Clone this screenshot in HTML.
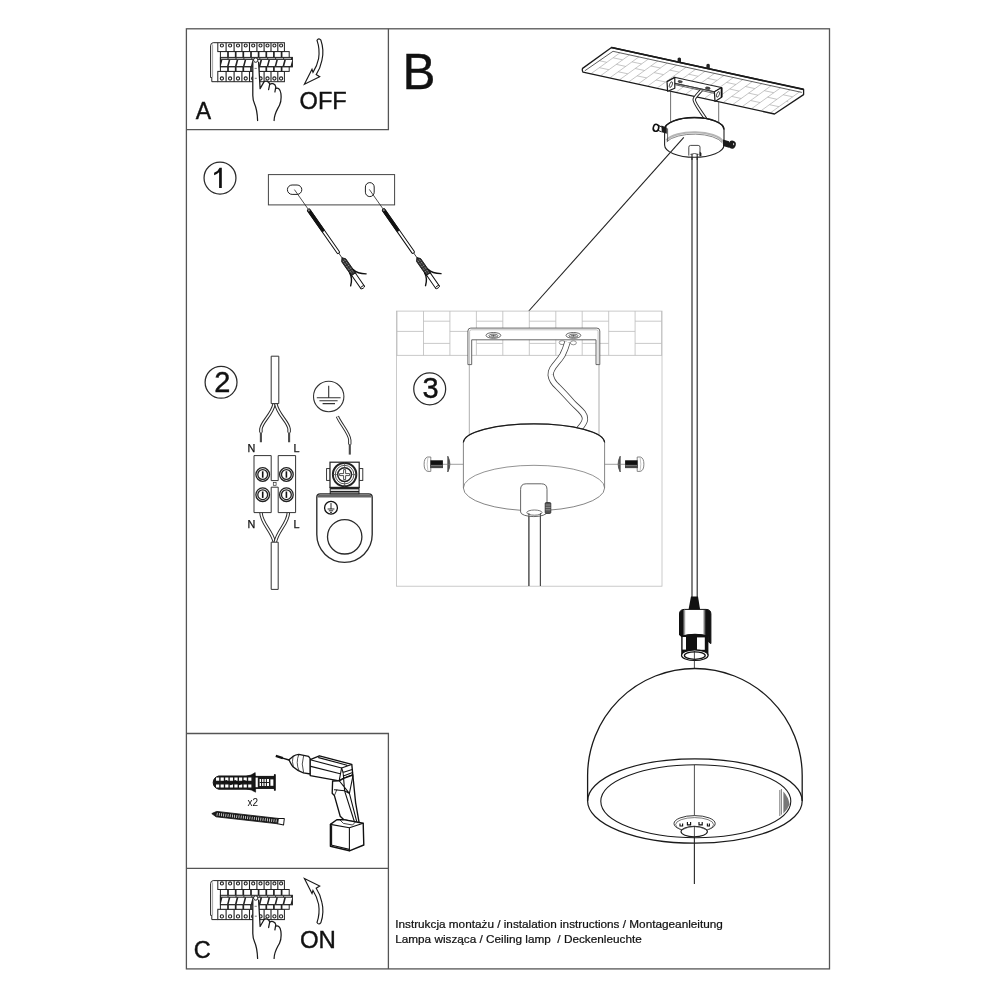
<!DOCTYPE html>
<html><head><meta charset="utf-8"><title>Instrukcja montażu</title>
<style>
html,body{margin:0;padding:0;background:#fff;}
body{width:1000px;height:1000px;overflow:hidden;font-family:"Liberation Sans",sans-serif;}
svg{display:block;position:absolute;left:0;top:0;will-change:transform;opacity:.999;}
text{font-family:"Liberation Sans",sans-serif;fill:#111;}
.f{fill:none;stroke:#555;stroke-width:1.3;}
.k{fill:none;stroke:#222;stroke-width:1;}
.kw{fill:#fff;stroke:#222;stroke-width:1;}
.t{fill:none;stroke:#555;stroke-width:0.8;}
.tw{fill:#fff;stroke:#555;stroke-width:0.8;}
.g{fill:none;stroke:#aaa;stroke-width:0.7;}
</style></head><body>
<svg width="1000" height="1000" viewBox="0 0 1000 1000">
<rect width="1000" height="1000" fill="#fff"/>
<!-- FRAME -->
<g class="f">
<rect x="186.4" y="28.8" width="643.1" height="940.1"/>
<path d="M388.4 28.8V129.6H186.4"/>
<path d="M186.4 733.5H388.4V968.9"/>
<path d="M186.4 868.3H388.4"/>
</g>
<!-- LABELS -->
<g stroke="#111" stroke-width=".4">
<text x="195.7" y="118.6" font-size="23">A</text>
<text x="299.6" y="109.3" font-size="23.6">OFF</text>
<text x="402.6" y="89" font-size="49.4">B</text>
<text x="193.8" y="958.2" font-size="23.5">C</text>
<text x="299.9" y="947.6" font-size="24">ON</text>
<text x="395.2" y="927.8" font-size="11.77" stroke="#111" stroke-width=".22">Instrukcja montażu / instalation instructions / Montageanleitung</text>
<text x="395.2" y="943.1" font-size="11.77" stroke="#111" stroke-width=".22">Lampa wisząca / Ceiling lamp&#160; / Deckenleuchte</text>
</g>
<!-- BREAKER -->
<defs><g id="brk">
<path d="M217.8 42.7H213.2Q210.6 42.9 210.6 45.8V77.5H211.8V81.7H217.8" fill="#fff" stroke="#222" stroke-width="1"/>
<path d="M212.6 44.5V77.5" stroke="#666" stroke-width=".6" fill="none"/>
<rect x="217.8" y="42.7" width="66.6" height="8.9" fill="#fff" stroke="#222" stroke-width="1"/>
<path d="M226.1 42.7V51.6M234.1 42.7V51.6M241.9 42.7V51.6M249.5 42.7V51.6M256.9 42.7V51.6M264.1 42.7V51.6M271.0 42.7V51.6M277.8 42.7V51.6" stroke="#222" stroke-width="1.1" fill="none"/>
<circle cx="221.9" cy="45.5" r="1.55" fill="#fff" stroke="#222" stroke-width="1.1"/>
<circle cx="230.1" cy="45.5" r="1.55" fill="#fff" stroke="#222" stroke-width="1.1"/>
<circle cx="238.0" cy="45.5" r="1.55" fill="#fff" stroke="#222" stroke-width="1.1"/>
<circle cx="245.7" cy="45.5" r="1.55" fill="#fff" stroke="#222" stroke-width="1.1"/>
<circle cx="253.2" cy="45.5" r="1.55" fill="#fff" stroke="#222" stroke-width="1.1"/>
<circle cx="260.5" cy="45.5" r="1.55" fill="#fff" stroke="#222" stroke-width="1.1"/>
<circle cx="267.5" cy="45.5" r="1.55" fill="#fff" stroke="#222" stroke-width="1.1"/>
<circle cx="274.4" cy="45.5" r="1.55" fill="#fff" stroke="#222" stroke-width="1.1"/>
<circle cx="281.1" cy="45.5" r="1.55" fill="#fff" stroke="#222" stroke-width="1.1"/>
<rect x="217.8" y="71.4" width="66.6" height="10.3" fill="#fff" stroke="#222" stroke-width="1"/>
<path d="M226.1 71.4V81.7M234.1 71.4V81.7M241.9 71.4V81.7M249.5 71.4V81.7M256.9 71.4V81.7M264.1 71.4V81.7M271.0 71.4V81.7M277.8 71.4V81.7" stroke="#222" stroke-width="1.1" fill="none"/>
<circle cx="221.9" cy="78.5" r="1.6" fill="#fff" stroke="#222" stroke-width="1.1"/>
<circle cx="230.1" cy="78.5" r="1.6" fill="#fff" stroke="#222" stroke-width="1.1"/>
<circle cx="238.0" cy="78.5" r="1.6" fill="#fff" stroke="#222" stroke-width="1.1"/>
<circle cx="245.7" cy="78.5" r="1.6" fill="#fff" stroke="#222" stroke-width="1.1"/>
<circle cx="253.2" cy="78.5" r="1.6" fill="#fff" stroke="#222" stroke-width="1.1"/>
<circle cx="260.5" cy="78.5" r="1.6" fill="#fff" stroke="#222" stroke-width="1.1"/>
<circle cx="267.5" cy="78.5" r="1.6" fill="#fff" stroke="#222" stroke-width="1.1"/>
<circle cx="274.4" cy="78.5" r="1.6" fill="#fff" stroke="#222" stroke-width="1.1"/>
<circle cx="281.1" cy="78.5" r="1.6" fill="#fff" stroke="#222" stroke-width="1.1"/>
<rect x="220.4" y="51.6" width="68.8" height="19.8" fill="#fff" stroke="#222" stroke-width="1"/>
<path d="M228.0 51.6V57.4M228.0 67V71.4M235.7 51.6V57.4M235.7 67V71.4M243.3 51.6V57.4M243.3 67V71.4M251.0 51.6V57.4M251.0 67V71.4M258.6 51.6V57.4M258.6 67V71.4M266.3 51.6V57.4M266.3 67V71.4M273.9 51.6V57.4M273.9 67V71.4M281.6 51.6V57.4M281.6 67V71.4" stroke="#222" stroke-width="1.7" fill="none"/>
<rect x="220.4" y="57.4" width="72.0" height="9.5" fill="#222" stroke="#222" stroke-width="1"/>
<rect x="221.0" y="57.9" width="70.2" height="1.3" fill="#aaa"/>
<path d="M222.4 59.9H228.7L227.1 66H220.8Z" fill="#fff"/>
<path d="M228.0 57.8v1.5" stroke="#222" stroke-width=".9"/>
<path d="M230.3 59.9H236.6L235.0 66H228.7Z" fill="#fff"/>
<path d="M236.0 57.8v1.5" stroke="#222" stroke-width=".9"/>
<path d="M238.3 59.9H244.6L243.0 66H236.7Z" fill="#fff"/>
<path d="M243.9 57.8v1.5" stroke="#222" stroke-width=".9"/>
<path d="M246.2 59.9H252.5L250.9 66H244.6Z" fill="#fff"/>
<path d="M251.8 57.8v1.5" stroke="#222" stroke-width=".9"/>
<path d="M254.1 59.9H260.4L258.8 66H252.5Z" fill="#fff"/>
<path d="M259.8 57.8v1.5" stroke="#222" stroke-width=".9"/>
<path d="M262.1 59.9H268.4L266.8 66H260.5Z" fill="#fff"/>
<path d="M267.7 57.8v1.5" stroke="#222" stroke-width=".9"/>
<path d="M270.0 59.9H276.3L274.7 66H268.4Z" fill="#fff"/>
<path d="M275.6 57.8v1.5" stroke="#222" stroke-width=".9"/>
<path d="M277.9 59.9H284.2L282.6 66H276.3Z" fill="#fff"/>
<path d="M283.6 57.8v1.5" stroke="#222" stroke-width=".9"/>
<path d="M285.9 59.9H292.2L290.6 66H284.3Z" fill="#fff"/>
<path d="M291.5 57.8v1.5" stroke="#222" stroke-width=".9"/>
<path d="M257.6 120.5C257.3 112 256.4 108 254.6 104C253.2 100.8 252.8 98.5 252.8 95.5V62.2C252.8 58.9 258.6 58.9 258.6 62.2L260.1 88.6L264 81.9C265.5 80.4 269.3 81 269.7 84.3C271 82.8 275.2 83.3 275.8 86.8C277.6 86.4 280.3 88.5 280.9 93.5C281.4 98 281.3 101.5 279.6 105C277.5 109.4 274.2 113.5 274.1 120.5" fill="#fff" stroke="none"/>
<path d="M257.6 120.5C257.3 112 256.4 108 254.6 104C253.2 100.8 252.8 98.5 252.8 95.5V62.2M258.6 62.2L260.1 88.6L264 81.9C265.5 80.4 269.3 81 269.7 84.3L268.6 89.6M269.7 84.6C271 82.8 275.2 83.3 275.8 86.8L274.9 92M275.9 88.4C277.6 87.4 280.3 88.5 280.9 93.5C281.4 98 281.3 101.5 279.6 105C277.5 109.4 274.2 113.5 274.1 120.5" fill="none" stroke="#1a1a1a" stroke-width="1.25" stroke-linejoin="round" stroke-linecap="round"/>
<circle cx="255.7" cy="60.1" r="2.2" fill="#fff" stroke="#222" stroke-width="1"/>
<path d="M254.6 68.4h2.2M254.8 78.3h2" stroke="#555" stroke-width=".8"/>
</g></defs>
<use href="#brk"/>
<use href="#brk" y="837.9"/>
<path d="M317 40.4Q318.8 37.5 320.9 40.2C322.9 46 323.5 54 321.9 60.4C320.8 66 318.6 71 316.2 74.6L319.7 76.8L304.4 84.3L312 69.3L313 72.4C315.4 68.6 317.6 63.6 318.6 58.6C319.6 52 319 46 317 40.4Z" fill="#fff" stroke="#1a1a1a" stroke-width="1.15" stroke-linejoin="miter"/>
<path d="M317 40.4Q318.8 37.5 320.9 40.2C322.9 46 323.5 54 321.9 60.4C320.8 66 318.6 71 316.2 74.6L319.7 76.8L304.4 84.3L312 69.3L313 72.4C315.4 68.6 317.6 63.6 318.6 58.6C319.6 52 319 46 317 40.4Z" transform="translate(0 962.85) scale(1 -1)" fill="#fff" stroke="#1a1a1a" stroke-width="1.15" stroke-linejoin="miter"/>
<!-- LAMP -->
<g id="plate">
<path d="M611.5 47.5L803.6 89.4V94.6L774.5 114L583 72.2Q581.8 70 582.6 68.4Z" fill="#fff" stroke="none"/>
<path d="M620.0 52.8L591.4 73.4M629.5 54.9L600.9 75.5M638.9 56.9L610.3 77.5M648.4 59.0L619.8 79.6M657.8 61.0L629.2 81.6M667.2 63.1L638.6 83.7M676.7 65.2L648.1 85.8M686.1 67.2L657.5 87.8M695.6 69.3L667.0 89.9M705.0 71.3L676.4 91.9M714.5 73.4L685.9 94.0M724.0 75.4L695.4 96.0M733.4 77.5L704.8 98.1M742.9 79.5L714.2 100.1M752.3 81.6L723.7 102.2M761.8 83.7L733.1 104.3M771.2 85.7L742.6 106.3M780.6 87.8L752.0 108.4M790.1 89.8L761.5 110.4M799.5 91.9L770.9 112.5M599.8 60.8L606.8 62.3M613.1 57.8L622.6 59.8M599.4 67.7L608.9 69.7M616.3 64.4L625.7 66.4M632.0 61.9L641.5 63.9M618.3 71.8L627.8 73.8M635.2 68.5L644.6 70.5M650.9 66.0L660.4 68.0M637.2 75.9L646.7 77.9M654.1 72.6L663.5 74.6M669.8 70.1L679.3 72.2M656.1 80.0L665.6 82.0M673.0 76.7L682.4 78.7M688.7 74.2L698.2 76.3M675.0 84.1L684.5 86.2M691.9 80.8L701.3 82.9M707.6 78.3L717.1 80.4M693.9 88.2L703.4 90.3M710.8 84.9L720.2 87.0M726.5 82.4L736.0 84.5M712.8 92.3L722.3 94.4M729.7 89.0L739.1 91.1M745.4 86.5L754.9 88.6M731.7 96.4L741.2 98.5M748.6 93.1L758.0 95.2M764.3 90.7L773.8 92.7M750.6 100.5L760.1 102.6M767.5 97.2L776.9 99.3M783.2 94.8L792.7 96.8M769.5 104.7L779.0 106.7M786.4 101.4L788.3 101.8" fill="none" stroke="#adadad" stroke-width=".7"/>
<path d="M584.8 70.8L613 51.3L801.8 92.4" fill="none" stroke="#333" stroke-width=".8"/>
<path d="M611.5 47.5L803.6 89.4V94.6L774.5 114L583 72.2Q581.8 70 582.6 68.4Z" fill="none" stroke="#1a1a1a" stroke-width="1.3" stroke-linejoin="round"/>
<path d="M611.5 47.5L803.6 89.4" fill="none" stroke="#1a1a1a" stroke-width="1.7"/>
<path d="M677.6 61.6V58.4Q679.3 56.4 681 58.4V62.4Z" fill="#222"/><path d="M706.4 67.9V64.7Q708.1 62.7 709.8 64.7V68.7Z" fill="#222"/>
</g>
<g id="bracket">
<path d="M674.8 77.4L721.6 87.6L714.4 91.8L667 81.6Z" fill="#fff" stroke="#222" stroke-width="1"/>
<path d="M675.4 83.4L714.4 91.8M675.4 84.8L714.4 93.4" fill="none" stroke="#444" stroke-width=".8"/>
<ellipse cx="680.2" cy="81.7" rx="2.2" ry="1" transform="rotate(10 680.2 81.7)" fill="#555" stroke="#222" stroke-width=".7"/>
<ellipse cx="707.8" cy="88.2" rx="2.4" ry="1.1" transform="rotate(10 707.8 88.2)" fill="#555" stroke="#222" stroke-width=".7"/>
<path d="M667 81.6L674.8 77.4V88.2L667.6 91.2Z" fill="#fff" stroke="#1a1a1a" stroke-width="1.2" stroke-linejoin="round"/>
<ellipse cx="670.9" cy="84.6" rx="1.3" ry="3" transform="rotate(22 670.9 84.6)" fill="none" stroke="#333" stroke-width=".8"/>
<path d="M714.4 91.8L721.6 87.6V97.2L715 101.4Z" fill="#fff" stroke="#1a1a1a" stroke-width="1.2" stroke-linejoin="round"/>
<ellipse cx="718" cy="94.4" rx="1.3" ry="3" transform="rotate(22 718 94.4)" fill="none" stroke="#333" stroke-width=".8"/>
<path d="M721.6 87.6V97.2" stroke="#111" stroke-width="1.8"/>
<path d="M670.6 91V123.4M718.7 101.4V124" fill="none" stroke="#333" stroke-width=".7"/>
<path d="M701.4 90.2C698.5 93.5 695 96.6 694.2 99.4C693.6 102.4 700.5 111 705.6 118.8" fill="none" stroke="#222" stroke-width="3.5" stroke-linecap="butt"/>
<path d="M701.4 90.2C698.5 93.5 695 96.6 694.2 99.4C693.6 102.4 700.5 111 705.6 118.8" fill="none" stroke="#fff" stroke-width="1.5"/>
</g>
<path d="M692 150V600M697.2 150V600" fill="none" stroke="#2a2a2a" stroke-width="1.15"/>
<g id="canopy">
<path d="M658.6 125.6L662 127M658 130.4L661.6 131.8" stroke="#111" stroke-width="1"/><ellipse cx="656" cy="127.8" rx="2.7" ry="3.5" transform="rotate(15 656 127.8)" fill="#fff" stroke="#111" stroke-width="1.6"/>
<path d="M664.6 145V129.6A29.7 12 0 0 1 724 129.6V145A29.7 12.3 0 0 1 664.6 145Z" fill="#fff" stroke="#222" stroke-width="1.1"/>
<path d="M664.6 129.6A29.7 12 0 0 1 724 129.6" fill="none" stroke="#1a1a1a" stroke-width="1.5"/>
<path d="M666.2 140.4A29.7 12.3 0 0 1 723 141.6" fill="none" stroke="#b5b5b5" stroke-width="2.2"/>
<path d="M666.6 141.8A29.7 12.3 0 0 1 722.6 143" fill="none" stroke="#555" stroke-width=".7"/>
<path d="M667.6 128.4V141.6" fill="none" stroke="#333" stroke-width=".8"/>
<path d="M661.4 125.6L666.8 127.6V133.8L661.8 132.2Z" fill="#1a1a1a"/>
<path d="M723 139.4L729 141.2V147.8L723 146Z" fill="#1a1a1a"/><ellipse cx="732.2" cy="144.6" rx="3.6" ry="4" transform="rotate(15 732.2 144.6)" fill="#1a1a1a"/><ellipse cx="733.6" cy="144.2" rx=".6" ry="1.1" fill="#ccc"/>
<path d="M688.8 155.6V147.2Q688.8 145.4 690.6 145.4H698.2Q700 145.4 700 147.2V155.6" fill="#fff" stroke="#333" stroke-width=".9"/>
<path d="M699.6 151.6L701.4 153V156L699.6 156.6Z" fill="#222"/>
<path d="M692 156V150M697.2 156V150" stroke="#fff" stroke-width="1.2"/>
<path d="M690.4 154.4Q694.5 152.6 698.6 154.4" fill="none" stroke="#333" stroke-width=".8"/>
<path d="M692 154V160M697.2 154V160" fill="none" stroke="#2a2a2a" stroke-width="1.15"/>
</g>
<path d="M683.8 137.4L528.8 311" fill="none" stroke="#222" stroke-width="1.1"/>
<defs><linearGradient id="sg" x1="0" x2="1" y1="0" y2="0"><stop offset="0" stop-color="#111"/><stop offset=".1" stop-color="#111"/><stop offset=".2" stop-color="#fff"/><stop offset=".74" stop-color="#fff"/><stop offset=".84" stop-color="#111"/><stop offset="1" stop-color="#111"/></linearGradient></defs>
<g id="socket">
<path d="M691 596.4H698L700.1 609.6H688.5Z" fill="#111"/>
<path d="M681.2 634V655A13.5 5.4 0 0 0 708.4 655V634Z" fill="#111"/>
<rect x="682.6" y="637" width="3.4" height="12.6" fill="#fff"/><rect x="697" y="637.4" width="7.8" height="12.4" fill="#fff"/>
<ellipse cx="694.8" cy="655.2" rx="13.3" ry="5.3" fill="#fff" stroke="#111" stroke-width="1.2"/>
<ellipse cx="694.8" cy="655.6" rx="10.4" ry="3.7" fill="#fff" stroke="#111" stroke-width="1.3"/>
<path d="M679.5 614Q679.5 609.4 684.4 609.4H706Q710.9 609.4 710.9 614V643.6L708.6 642V636.4Q695 632.6 681.4 636.4L679.5 635Z" fill="url(#sg)" stroke="#111" stroke-width="1"/>
<path d="M681.4 636.4Q695 632.6 708.6 636.4" fill="none" stroke="#111" stroke-width="1.6"/>
</g>
<path d="M694.4 651V668.6M694.4 765V884" fill="none" stroke="#222" stroke-width=".8"/>
<g id="shade">
<path d="M587.6 801V775.6A107.3 107.1 0 0 1 802.2 775.6V801" fill="none" stroke="#1a1a1a" stroke-width="1.3"/>
<ellipse cx="694.9" cy="801" rx="107.3" ry="42.2" fill="none" stroke="#1a1a1a" stroke-width="1.2"/>
<ellipse cx="695.8" cy="801.3" rx="95" ry="36.5" fill="none" stroke="#1a1a1a" stroke-width="1.1"/>
<path d="M779.8 790V816M781.4 789V814.6" fill="none" stroke="#444" stroke-width=".7"/>
<path d="M783.4 791.4Q788.6 797 789.6 804.6Q787.6 809.6 783.4 813.4Z" fill="#777"/>
<ellipse cx="694.6" cy="823.6" rx="20.6" ry="8" fill="#fff" stroke="#222" stroke-width=".9"/>
<ellipse cx="694.6" cy="824.6" rx="19" ry="7" fill="#fff" stroke="#444" stroke-width=".7"/>
<path d="M680 823.4v2.6h2.6v-2.6M687.4 822v2.8h3.2V822M699 822v2.8h3.2V822M707.4 823.4v2.6h2v-2.6" fill="none" stroke="#111" stroke-width="1.15"/>
<ellipse cx="694.2" cy="831.6" rx="13.2" ry="5.2" fill="#fff" stroke="#1a1a1a" stroke-width="1.1"/>
<path d="M683 829.4Q694 823.6 705.6 829.4" fill="none" stroke="#555" stroke-width=".7"/>
<path d="M694.4 826V884" fill="none" stroke="#222" stroke-width=".8"/>
</g>
<!-- DETAIL -->
<g id="detail3">
<rect x="396.4" y="311.1" width="265.6" height="275.1" fill="#fff" stroke="#bdbdbd" stroke-width=".8"/>
<path d="M397.0 311.1V355.4M423.5 311.1V355.4M449.9 311.1V355.4M476.4 311.1V355.4M502.8 311.1V355.4M529.3 311.1V355.4M555.8 311.1V355.4M582.2 311.1V355.4M608.7 311.1V355.4M635.1 311.1V355.4M661.6 311.1V355.4M397.0 331.4H423.5M423.5 321.2H449.9M423.5 343.4H449.9M449.9 331.4H476.4M476.4 321.2H502.8M476.4 343.4H502.8M502.8 331.4H529.3M529.3 321.2H555.8M529.3 343.4H555.8M555.8 331.4H582.2M582.2 321.2H608.7M582.2 343.4H608.7M608.7 331.4H635.1M635.1 321.2H661.6M635.1 343.4H661.6M396.4 355.4H662" fill="none" stroke="#bbb" stroke-width=".8"/>
<path d="M467.9 364.6V331Q467.9 328.1 470.8 328.1H596.9Q599.8 328.1 599.8 331V364.6H596V339.8H471.7V364.6Z" fill="#fff" stroke="#555" stroke-width=".9" stroke-linejoin="round"/>
<path d="M469.6 364V331.6Q469.6 329.8 471.4 329.8H596.3Q598.1 329.8 598.1 331.6V364" fill="none" stroke="#999" stroke-width=".6"/>
<ellipse cx="493.4" cy="335.4" rx="7.4" ry="2.9" fill="#fff" stroke="#444" stroke-width=".8"/>
<ellipse cx="493.4" cy="335.7" rx="4.6" ry="1.7" fill="#ddd" stroke="#444" stroke-width=".7"/>
<path d="M491.0 335.7h4.8M493.4 334.6v2.2" stroke="#333" stroke-width=".6"/>
<ellipse cx="573.4" cy="335.4" rx="7.4" ry="2.9" fill="#fff" stroke="#444" stroke-width=".8"/>
<ellipse cx="573.4" cy="335.7" rx="4.6" ry="1.7" fill="#ddd" stroke="#444" stroke-width=".7"/>
<path d="M571.0 335.7h4.8M573.4 334.6v2.2" stroke="#333" stroke-width=".6"/>
<path d="M469.3 364.6V436M599 364.6V436" fill="none" stroke="#777" stroke-width=".6"/>
<ellipse cx="562.2" cy="342.6" rx="3" ry="2" fill="#fff" stroke="#666" stroke-width=".7"/><ellipse cx="573.4" cy="342.8" rx="3" ry="2" fill="#fff" stroke="#666" stroke-width=".7"/>
<path d="M567.5 342C565.8 348 564 352 562.5 355C558 363 550 368 550.7 375C551.5 381 554 383.5 557.5 386.5C563 392 568 397.5 572.5 402.5C578 408.5 585.5 413 585 419C584.6 424 581 426.5 578.2 430" fill="none" stroke="#444" stroke-width="6.3"/>
<path d="M567.5 342C565.8 348 564 352 562.5 355C558 363 550 368 550.7 375C551.5 381 554 383.5 557.5 386.5C563 392 568 397.5 572.5 402.5C578 408.5 585.5 413 585 419C584.6 424 581 426.5 578.2 430" fill="none" stroke="#fff" stroke-width="4.7"/>
<path d="M463.4 488V442.6A70.6 18.8 0 0 1 604.6 442.6V488A70.6 22.7 0 0 1 463.4 488Z" fill="#fff" stroke="#666" stroke-width=".8"/>
<path d="M463.4 442.6A70.6 18.8 0 0 1 604.6 442.6" fill="none" stroke="#1a1a1a" stroke-width="1.2"/>
<path d="M463.4 488A70.6 22.7 0 0 1 604.6 488" fill="none" stroke="#777" stroke-width=".8"/>
<g><path d="M430.8 457V471.4H427.6Q424.1 470.4 424.1 464.2Q424.1 458 427.6 457Z" fill="#fff" stroke="#777" stroke-width=".9"/><path d="M427.9 457.6Q426.4 464.2 427.9 470.8" fill="none" stroke="#aaa" stroke-width=".7"/><rect x="430.4" y="460.3" width="12.5" height="7.8" fill="#111"/><path d="M431 465.4H442.6M431 467H442.6" stroke="#999" stroke-width=".8"/><path d="M447.8 456.2V472Q452 464.1 447.8 456.2Z" fill="#555" stroke="#444" stroke-width=".8" stroke-linejoin="round"/><path d="M442.9 464.3H463.2" stroke="#777" stroke-width=".7"/></g>
<g transform="translate(1068 0) scale(-1 1)"><path d="M430.8 457V471.4H427.6Q424.1 470.4 424.1 464.2Q424.1 458 427.6 457Z" fill="#fff" stroke="#777" stroke-width=".9"/><path d="M427.9 457.6Q426.4 464.2 427.9 470.8" fill="none" stroke="#aaa" stroke-width=".7"/><rect x="430.4" y="460.3" width="12.5" height="7.8" fill="#111"/><path d="M431 465.4H442.6M431 467H442.6" stroke="#999" stroke-width=".8"/><path d="M447.8 456.2V472Q452 464.1 447.8 456.2Z" fill="#555" stroke="#444" stroke-width=".8" stroke-linejoin="round"/><path d="M442.9 464.3H463.2" stroke="#777" stroke-width=".7"/></g>
<path d="M528.9 586V512M540.4 586V512" fill="none" stroke="#444" stroke-width=".9"/>
<path d="M520.6 512V489.4Q520.6 483.8 526.2 483.8H541.4Q547 483.8 547 489.4V512A13.2 4.6 0 0 1 520.6 512Z" fill="#fff" stroke="#555" stroke-width=".9"/>
<ellipse cx="534.4" cy="512.6" rx="7.6" ry="2.6" fill="#fff" stroke="#555" stroke-width=".8"/>
<path d="M528.9 586V513M540.4 586V513" fill="none" stroke="#444" stroke-width=".9"/>
<rect x="545.2" y="502.6" width="5.6" height="10.8" rx="1" fill="#555" stroke="#222" stroke-width=".8"/><path d="M545.6 505h5M545.6 507.4h5M545.6 509.8h5" stroke="#bbb" stroke-width=".6"/>
<circle cx="429.7" cy="388.9" r="15.95" fill="#fff" stroke="#2a2a2a" stroke-width="1.25"/>
<text x="430.6" y="398.4" font-size="29" text-anchor="middle" stroke="#111" stroke-width=".4">3</text>
</g>
<!-- STEPS -->
<g id="step1">
<circle cx="220" cy="178.05" r="15.95" fill="#fff" stroke="#2a2a2a" stroke-width="1.25"/>
<path d="M219.6 167.8H221.8V187.9H219.1V172.3Q217 174.3 214.1 175.2V172.8Q218.2 171.2 219.6 167.8Z" fill="#111"/>
<rect x="268.4" y="174.6" width="126.2" height="30.3" fill="#fff" stroke="#444" stroke-width="1"/>
<rect x="287.4" y="185" width="14.4" height="9.4" rx="4.7" fill="#fff" stroke="#222" stroke-width="1"/>
<rect x="365.4" y="182.6" width="8.8" height="14" rx="4.4" fill="#fff" stroke="#222" stroke-width="1"/>
<defs><g id="scr1">
<path d="M294.4 189.6L308.2 209.2" stroke="#222" stroke-width=".8"/>
<g transform="translate(308.2 209.4) rotate(55.06)">
<rect x="0" y="-1.4" width="53.4" height="2.8" rx="1.1" fill="#fff" stroke="#111" stroke-width="1"/>
<rect x="0" y="-1.4" width="26.7" height="2.8" rx="1.1" fill="#111" stroke="#111" stroke-width=".6"/>
<circle cx="1.2" cy="0" r="1" fill="#888"/>
<path d="M53.4 0h6" stroke="#222" stroke-width=".8"/>
<path d="M59.0 0L62.0 -2.5H80.0V2.5H62.0Z" fill="#333" stroke="#111" stroke-width=".8"/>
<path d="M62.0 -1h17M62.0 1h17" stroke="#aaa" stroke-width=".7" stroke-dasharray="1.6 1.6"/>
<rect x="79.0" y="-2.2" width="16" height="4.4" fill="#fff" stroke="#111" stroke-width="1"/>
<ellipse cx="95.0" cy="0" rx="1.1" ry="2.2" fill="#fff" stroke="#111" stroke-width=".9"/>
<path d="M75.0 -2.4Q81.0 -3.4 86.0 -10.6" fill="none" stroke="#111" stroke-width="1.4" stroke-linecap="round"/>
<path d="M76.0 2.4Q82.0 3 87.0 9" fill="none" stroke="#111" stroke-width="1.4" stroke-linecap="round"/>
</g>
</g></defs>
<use href="#scr1"/><use href="#scr1" x="74.9" y="-0.2"/>
</g>
<g id="step2">
<circle cx="221.05" cy="382.3" r="15.95" fill="#fff" stroke="#2a2a2a" stroke-width="1.25"/>
<text x="222.3" y="391.8" font-size="29" text-anchor="middle" stroke="#111" stroke-width=".4">2</text>
<path d="M271.2 403.6V356.2H278.8V403.6" fill="#fff" stroke="#333" stroke-width="1"/>
<path d="M274.2 403.6C272 415 262 421 260.9 429V432.6" fill="none" stroke="#2a2a2a" stroke-width="3.5"/>
<path d="M274.2 403.6C272 415 262 421 260.9 429V432.6" fill="none" stroke="#fff" stroke-width="1.5"/>
<path d="M275.8 403.6C278 415 288 421 289.1 429V432.6" fill="none" stroke="#2a2a2a" stroke-width="3.5"/>
<path d="M275.8 403.6C278 415 288 421 289.1 429V432.6" fill="none" stroke="#fff" stroke-width="1.5"/>
<path d="M260.9 432.4V442.2M289.1 432.4V442.2" stroke="#4a4a4a" stroke-width="2.1"/>
<path d="M271.2 403.6H278.8" stroke="#333" stroke-width="1"/>
<g stroke="#111" stroke-width=".25"><text x="247.6" y="452.2" font-size="10.8">N</text><text x="293.6" y="452.2" font-size="10.8">L</text>
<text x="247.6" y="527.8" font-size="10.8">N</text><text x="293.6" y="527.8" font-size="10.8">L</text></g>
<path d="M261 512.6C261.6 524 271.6 530 274.4 542.4" fill="none" stroke="#2a2a2a" stroke-width="3.5"/>
<path d="M261 512.6C261.6 524 271.6 530 274.4 542.4" fill="none" stroke="#fff" stroke-width="1.5"/>
<path d="M288.4 512.6C287.8 524 277.8 530 275.2 542.4" fill="none" stroke="#2a2a2a" stroke-width="3.5"/>
<path d="M288.4 512.6C287.8 524 277.8 530 275.2 542.4" fill="none" stroke="#fff" stroke-width="1.5"/>
<path d="M271.2 542.2V589.4H278.2V542.2Z" fill="#fff" stroke="#333" stroke-width="1"/>
<path d="M254 455.6H271.2V480.6H278.2V455.6H295.6V512.6H278.2V487.2H271.2V512.6H254Z" fill="#fff" stroke="#333" stroke-width="1"/>
<rect x="273.3" y="482.5" width="2.8" height="2.8" fill="#fff" stroke="#333" stroke-width=".7"/>
<circle cx="262.7" cy="474.5" r="6.8" fill="#fff" stroke="#222" stroke-width="1.3"/>
<circle cx="262.7" cy="474.5" r="4.9" fill="#fff" stroke="#222" stroke-width="1.3"/>
<path d="M262.7 471.3V477.7" stroke="#111" stroke-width="1.6"/>
<circle cx="262.7" cy="494.7" r="6.8" fill="#fff" stroke="#222" stroke-width="1.3"/>
<circle cx="262.7" cy="494.7" r="4.9" fill="#fff" stroke="#222" stroke-width="1.3"/>
<path d="M262.7 491.5V497.9" stroke="#111" stroke-width="1.6"/>
<circle cx="286.4" cy="474.5" r="6.8" fill="#fff" stroke="#222" stroke-width="1.3"/>
<circle cx="286.4" cy="474.5" r="4.9" fill="#fff" stroke="#222" stroke-width="1.3"/>
<path d="M286.4 471.3V477.7" stroke="#111" stroke-width="1.6"/>
<circle cx="286.4" cy="494.7" r="6.8" fill="#fff" stroke="#222" stroke-width="1.3"/>
<circle cx="286.4" cy="494.7" r="4.9" fill="#fff" stroke="#222" stroke-width="1.3"/>
<path d="M286.4 491.5V497.9" stroke="#111" stroke-width="1.6"/>
<circle cx="328.7" cy="396.5" r="15.2" fill="#fff" stroke="#333" stroke-width="1.1"/>
<path d="M328.7 385.8V397.8M316.8 397.8H340.6M319.4 400.7H337.6M322.6 403.6H335" stroke="#333" stroke-width="1.1" fill="none"/>
<path d="M337.4 416.4C340.5 424 349.4 433 349.8 440V444.4" fill="none" stroke="#2a2a2a" stroke-width="3.3"/><path d="M337.4 416.4C340.5 424 349.4 433 349.8 440V444.4" fill="none" stroke="#fff" stroke-width="1.4"/>
<path d="M349.8 444.2V454.6" stroke="#4a4a4a" stroke-width="2.1"/>
<path d="M316.8 497.2Q316.8 493.8 320.2 493.8H368.8Q372.2 493.8 372.2 497.2V534.6A27.7 27.7 0 0 1 316.8 534.6Z" fill="#fff" stroke="#2a2a2a" stroke-width="1.35"/>
<path d="M317.4 497.4V497Q317.6 494.4 320.4 494.4H368.6Q371.4 494.4 371.6 497V497.6Z" fill="#666"/>
<circle cx="344.7" cy="536.8" r="17.2" fill="#fff" stroke="#2a2a2a" stroke-width="1.3"/>
<circle cx="331" cy="507.8" r="6.4" fill="#fff" stroke="#111" stroke-width="1.3"/>
<path d="M331 503V509M327.6 509H334.4M328.8 510.8H333.2M330 512.4H332" stroke="#111" stroke-width=".9"/>
<rect x="330.2" y="487.4" width="28.8" height="6.4" fill="#ddd" stroke="#222" stroke-width="1"/><path d="M330.2 488.6H359M330.2 491.8H359" stroke="#222" stroke-width="1.5"/>
<rect x="326.6" y="468.6" width="3.6" height="11.8" fill="#fff" stroke="#222" stroke-width=".9"/><rect x="359" y="468.6" width="3.8" height="11.8" fill="#fff" stroke="#222" stroke-width=".9"/>
<rect x="330" y="462.2" width="29.2" height="25.2" fill="#fff" stroke="#222" stroke-width="1.2"/>
<circle cx="344.6" cy="474.6" r="11.7" fill="#fff" stroke="#222" stroke-width="2"/>
<circle cx="344.6" cy="474.6" r="9.3" fill="none" stroke="#444" stroke-width=".9"/>
<circle cx="344.6" cy="474.6" r="6.9" fill="#fff" stroke="#222" stroke-width="1.5"/>
<path d="M343.6 469.6h2v4h4v2h-4v4h-2v-4h-4v-2h4Z" fill="#fff" stroke="#222" stroke-width=".8"/>
<path d="M332.4 474.6H337.6M351.6 474.6H356.8M344.6 462.4V467.6M344.6 481.6V487" stroke="#444" stroke-width=".7"/>
</g>
<!-- TOOLS -->
<g id="tools">
<g id="plug">
<path d="M246.6 776.2Q251.6 775.4 255.2 772.6L255.4 776.4Z" fill="#111" stroke="#111" stroke-width=".6"/>
<path d="M246.6 788.8Q251.6 789.6 255.6 792.2L255.6 788.6Z" fill="#111" stroke="#111" stroke-width=".6"/>
<path d="M213.2 782.6Q213.4 777.4 218.6 776H255V789.2H218.6Q213.4 787.8 213.2 782.6Z" fill="#1a1a1a" stroke="#111" stroke-width="1"/>
<path d="M216 777.6h3.2v3.1h-3.2ZM216 784.4h3.2v3.1h-3.2ZM220.6 777.6h3.2v3.1h-3.2ZM220.6 784.4h3.2v3.1h-3.2ZM225.2 777.6h3.2v3.1h-3.2ZM225.2 784.4h3.2v3.1h-3.2ZM229.8 777.6h3.2v3.1h-3.2ZM229.8 784.4h3.2v3.1h-3.2ZM234.4 777.6h3.2v3.1h-3.2ZM234.4 784.4h3.2v3.1h-3.2ZM239 777.6h3.2v3.1h-3.2ZM239 784.4h3.2v3.1h-3.2ZM243.6 777.6h3.2v3.1h-3.2ZM243.6 784.4h3.2v3.1h-3.2ZM248.2 777.6h3.2v3.1h-3.2ZM248.2 784.4h3.2v3.1h-3.2Z" fill="#fff"/>
<path d="M222 782.6l4.4 -1.6 4.4 3.2 4.4 -3.2 4.4 3.2 4.4 -3.2 4.4 1.6" fill="none" stroke="#111" stroke-width="1.8"/>
<rect x="255.4" y="776.4" width="19" height="12" fill="#1a1a1a" stroke="#111" stroke-width="1"/>
<rect x="255.6" y="777.6" width="2.2" height="9.6" fill="#fff"/>
<rect x="259.6" y="779" width="9.4" height="7" fill="#fff"/><path d="M261.6 779v7M264 779v7M266.4 779v7" stroke="#111" stroke-width="1"/><path d="M259.6 782.5h9.4" stroke="#111" stroke-width=".9"/>
<rect x="270.4" y="779.4" width="3" height="6.4" fill="#fff"/>
<rect x="273.9" y="774" width="1.9" height="16.8" rx=".9" fill="#111"/>
</g>
<text x="247.6" y="806.2" font-size="10">x2</text>
<g transform="translate(211.8 813.6) rotate(6.46)">
<path d="M0 0L4.6 -2.7H67V2.7H4.6Z" fill="#1a1a1a" stroke="#111" stroke-width=".8" stroke-linejoin="round"/>
<path d="M5 0H67" stroke="#fff" stroke-width="3" stroke-dasharray=".7 1.5"/>
<path d="M66.6 -2.6L72.6 -3.3V3.3L66.6 2.6Z" fill="#fff" stroke="#111" stroke-width="1" stroke-linejoin="round"/>
</g>
<g id="drill" stroke-linejoin="round" stroke-linecap="round">
<path d="M275.8 755.9L282.8 758.2" stroke="#111" stroke-width="2.4" stroke-linecap="butt"/>
<path d="M282.6 758.2L289 760" stroke="#111" stroke-width="1.35"/>
<path d="M289 759.8L293 756.4Q295.6 754.6 298.8 754.4L308.6 756.4L310.4 759V774L303.4 772.8Q297 770.6 293 766.8Q290.6 763.6 289 759.8Z" fill="#fff" stroke="#111" stroke-width="1.3"/>
<path d="M293 756.4Q291.6 761.6 293.4 767M298.8 754.4Q295.4 762.6 299 770.8M303.6 755.4Q300.8 764 303.6 772.8" fill="none" stroke="#222" stroke-width=".8"/>
<path d="M310.2 759.6L319.4 755.8L351.8 764.4L352.8 775L343.6 778.4L339.2 780.8L310.2 775.6Z" fill="#fff" stroke="#111" stroke-width="1.35"/>
<path d="M310.2 759.8L341.6 768L351.6 764.6M341.6 768L339.2 780.6M310.8 766.4L340.2 773.8M318.6 757.6L347 765.2" fill="none" stroke="#111" stroke-width="1.1"/>
<path d="M341.6 768Q343.6 772 343.6 778.2M342.8 772.4L352.2 769.4M343.4 776L352.6 772.6" fill="none" stroke="#111" stroke-width="1.1"/>
<path d="M332.6 781L332.2 793.2L334.4 795.6L340.2 816.2L343.6 819.6L359.2 823.2L355.6 802.6L352.8 775L343.6 778.4L339.2 780.8Z" fill="#fff" stroke="#111" stroke-width="1.35"/>
<path d="M334.4 789.8L344.6 790.8L349.4 793.4M344.6 790.8L354.8 823M349.4 793.4L357 822.6M343.6 778.4L344.6 790.8M339.4 781L349.4 793.4L352.9 776" fill="none" stroke="#111" stroke-width="1.1"/>
<path d="M334.4 795.6L336.8 789.8" fill="none" stroke="#111" stroke-width=".8"/>
<path d="M330.4 824.4L336.8 819.8L343.6 819.6L363.2 823.2L363.8 845L349.4 850.8L330.4 846.2Z" fill="#fff" stroke="#111" stroke-width="1.4"/>
<path d="M330.4 824.4L349.4 827.8L363.2 823.2M349.4 827.8V850.8M331.6 825.8L331.6 845M331 845L349.2 849.4" fill="none" stroke="#111" stroke-width="1.1"/>
<path d="M340 820L343.4 823.4L352.6 825L355.4 822" fill="none" stroke="#111" stroke-width=".8"/>
</g>
</g>
</svg>
</body></html>
